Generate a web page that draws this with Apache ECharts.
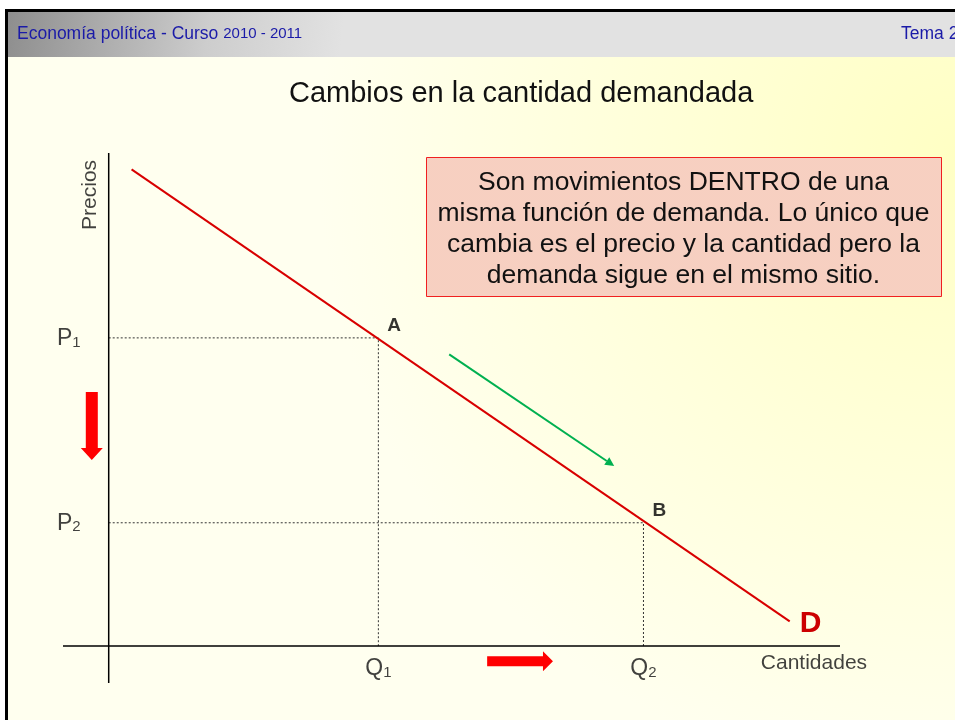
<!DOCTYPE html>
<html>
<head>
<meta charset="utf-8">
<script src="https://cdn.jsdelivr.net/npm/echarts@6/dist/echarts.min.js"></script>
<style>
  html, body { margin: 0; padding: 0; background: #fff; }
  #chart { width: 955px; height: 720px; }
</style>
</head>
<body>
<div id="chart"></div>
<script>
  // curva de demanda y puntos A / B
  const demandLine = [[0.5, 11.6], [14.9, 0.6]];
  const pointNames = ['A', 'B'];
  const qValues = [5.9, 11.7];
  const pValues = [7.5, 3.0];
  const qLabels = ['Q', 'Q'];
  const pLabels = ['P', 'P'];
  const subIndex = ['1', '2'];
  // flechas: [x1, y1, x2, y2]
  const moveArrow = [7.45, 7.1, 11.06, 4.38];
  const priceArrow = [-0.37, 6.18, -0.37, 4.53];
  const qtyArrow = [8.28, -0.37, 9.72, -0.37];

  const boxText = 'Son movimientos DENTRO de una\nmisma función de demanda. Lo único que\ncambia es el precio y la cantidad pero la\ndemanda sigue en el mismo sitio.';

  const FONT = '"Liberation Sans", Arial, sans-serif';

  // trama punteada del recuadro
  const pat = document.createElement('canvas');
  pat.width = 2; pat.height = 2;
  const pctx = pat.getContext('2d');
  pctx.fillStyle = '#FDEBDA'; pctx.fillRect(0, 0, 2, 2);
  pctx.fillStyle = '#F0B4A8'; pctx.fillRect(0, 0, 1, 1); pctx.fillRect(1, 1, 1, 1);

  const chart = echarts.init(document.getElementById('chart'));

  function arrowItem(shaft, headW, headL, color) {
    return function (params, api) {
      const p1 = api.coord([api.value(0), api.value(1)]);
      const p2 = api.coord([api.value(2), api.value(3)]);
      const dx = p2[0] - p1[0], dy = p2[1] - p1[1];
      const len = Math.sqrt(dx * dx + dy * dy);
      const ux = dx / len, uy = dy / len, nx = -uy, ny = ux;
      const bx = p2[0] - ux * headL, by = p2[1] - uy * headL;
      const pts = [
        [p1[0] + nx * shaft / 2, p1[1] + ny * shaft / 2],
        [bx + nx * shaft / 2, by + ny * shaft / 2],
        [bx + nx * headW / 2, by + ny * headW / 2],
        [p2[0], p2[1]],
        [bx - nx * headW / 2, by - ny * headW / 2],
        [bx - nx * shaft / 2, by - ny * shaft / 2],
        [p1[0] - nx * shaft / 2, p1[1] - ny * shaft / 2]
      ];
      if (shaft <= 2) {
        return {
          type: 'group',
          children: [
            { type: 'line', shape: { x1: p1[0], y1: p1[1], x2: bx, y2: by }, style: { stroke: color, lineWidth: shaft } },
            { type: 'polygon', shape: { points: [pts[2], pts[3], pts[4]] }, style: { fill: color } }
          ]
        };
      }
      return { type: 'polygon', shape: { points: pts }, style: { fill: color } };
    };
  }

  const dashStyle = { color: '#333', width: 1, type: [2, 2] };

  const guideSeries = [];
  for (let i = 0; i < qValues.length; i++) {
    guideSeries.push({
      type: 'line', symbol: 'none', silent: true, z: 2,
      lineStyle: dashStyle,
      data: [[0, pValues[i]], [qValues[i], pValues[i]], [qValues[i], 0]]
    });
  }

  const labelPoints = [];
  for (let i = 0; i < qValues.length; i++) {
    labelPoints.push({
      value: [qValues[i], 0],
      label: { show: true, position: 'bottom', distance: 10, formatter: '{m|' + qLabels[i] + '}{s|' + subIndex[i] + '}' }
    });
    labelPoints.push({
      value: [0, pValues[i]],
      label: { show: true, position: 'left', distance: 28, formatter: '{m|' + pLabels[i] + '}{s|' + subIndex[i] + '}' }
    });
  }

  chart.setOption({
    animation: false,
    backgroundColor: '#fff',
    title: {
      text: 'Cambios en la cantidad demandada',
      left: 284, top: 74,
      textStyle: { fontFamily: FONT, fontSize: 29, fontWeight: 'normal', color: '#111' }
    },
    graphic: [
      { type: 'rect', z: -10, shape: { x: 8, y: 12, width: 947, height: 708 },
        style: { fill: new echarts.graphic.RadialGradient(1, 0.2, 0.9, [
          { offset: 0, color: '#FFFFC4' }, { offset: 1, color: '#FFFFEF' }]) } },
      { type: 'rect', z: -9, shape: { x: 8, y: 12, width: 947, height: 45 },
        style: { fill: new echarts.graphic.LinearGradient(0, 0, 0.35, 1, [
          { offset: 0, color: '#8e8e8e' }, { offset: 0.6, color: '#cdcdcd' }, { offset: 1, color: '#e2e2e2' }]) } },
      { type: 'rect', z: 10, shape: { x: 5, y: 9, width: 950, height: 3 }, style: { fill: '#000' } },
      { type: 'rect', z: 10, shape: { x: 5, y: 9, width: 3, height: 711 }, style: { fill: '#000' } },
      { type: 'text', z: 11, left: 17, top: 25,
        style: { text: '{a|Economía política - Curso }{b|2010 - 2011}',
          rich: { a: { fontSize: 17.5, fill: '#1a1aa8', fontFamily: FONT }, b: { fontSize: 15, fill: '#1a1aa8', fontFamily: FONT } } } },
      { type: 'text', z: 11, left: 901, top: 25,
        style: { text: 'Tema 2', fontFamily: FONT, fontSize: 17.5, fill: '#1a1aa8' } },
      { type: 'group', left: 426, top: 157, z: 5, children: [
        { type: 'rect', shape: { x: 0, y: 0, width: 515, height: 139 },
          style: { fill: { image: pat, repeat: 'repeat' }, stroke: '#F02020', lineWidth: 1 } },
        { type: 'text', x: 257, y: 72,
          style: { text: boxText, fontFamily: FONT, fontSize: 26.5, lineHeight: 31, fill: '#111', align: 'center', verticalAlign: 'middle' } }
      ] }
    ],
    grid: { left: 63, right: 115, top: 153, bottom: 37 },
    xAxis: { type: 'value', min: -1, max: 16, show: false },
    yAxis: { type: 'value', min: -0.9, max: 12, show: false },
    series: [
      // ejes
      { type: 'line', symbol: 'none', silent: true, z: 3, lineStyle: { color: '#000', width: 1.5 },
        data: [[-1, 0], [16, 0]] },
      { type: 'line', symbol: 'none', silent: true, z: 3, lineStyle: { color: '#000', width: 1.5 },
        data: [[0, -0.9], [0, 12]] },
      ...guideSeries,
      // curva de demanda
      { type: 'line', symbol: 'none', silent: true, z: 4, lineStyle: { color: '#D80000', width: 2 },
        data: demandLine,
        endLabel: { show: true, formatter: 'D', offset: [2, 2], fontFamily: FONT, fontSize: 30, fontWeight: 'bold', color: '#CC0000' } },
      // A y B
      { type: 'scatter', symbolSize: 0, silent: true, z: 6,
        data: pointNames.map((n, i) => ({ value: [qValues[i], pValues[i]], name: n })),
        label: { show: true, formatter: '{b}', position: 'right', offset: [4, -12],
          fontFamily: FONT, fontSize: 19, fontWeight: 'bold', color: '#000' } },
      // etiquetas Q / P
      { type: 'scatter', symbolSize: 0, silent: true, z: 6, data: labelPoints,
        label: { rich: {
          m: { fontFamily: FONT, fontSize: 23, color: '#111', verticalAlign: 'bottom', lineHeight: 24 },
          s: { fontFamily: FONT, fontSize: 15, color: '#111', verticalAlign: 'bottom', lineHeight: 20 } } } },
      // nombres de los ejes
      { type: 'scatter', symbolSize: 0, silent: true, z: 6,
        data: [
          { value: [15.43, -0.41], label: { show: true, position: 'inside', formatter: 'Cantidades' } },
          { value: [-0.4, 10.98], label: { show: true, position: 'inside', rotate: 90, formatter: 'Precios' } }
        ],
        label: { fontFamily: FONT, fontSize: 21, color: '#111' } },
      // flechas
      { type: 'custom', silent: true, z: 7, renderItem: arrowItem(2, 9, 9, '#00B050'), data: [moveArrow] },
      { type: 'custom', silent: true, z: 7, renderItem: arrowItem(12, 22, 12, '#FF0000'), data: [priceArrow] },
      { type: 'custom', silent: true, z: 7, renderItem: arrowItem(10, 20, 10, '#FF0000'), data: [qtyArrow] }
    ]
  });
</script>
</body>
</html>
